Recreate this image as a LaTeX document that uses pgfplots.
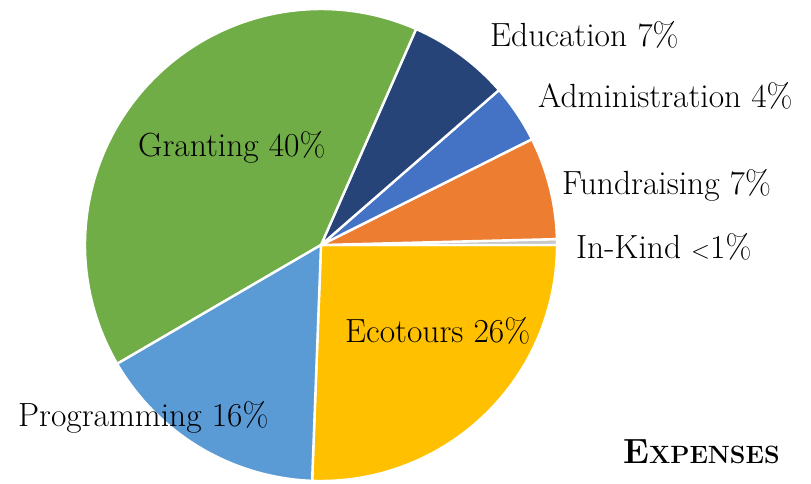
\documentclass[border=0pt]{standalone}
\usepackage{pgfplots}
\pgfplotsset{compat=1.18}
\usepgfplotslibrary{polar}
\definecolor{cEco}{HTML}{FFC000}
\definecolor{cProg}{HTML}{5B9BD5}
\definecolor{cGrant}{HTML}{70AD47}
\definecolor{cEdu}{HTML}{264478}
\definecolor{cAdm}{HTML}{4472C4}
\definecolor{cFund}{HTML}{ED7D31}
\definecolor{cKind}{HTML}{C8C8C8}
% shares (percent): Ecotours 25.6, In-Kind 0.4, Fundraising 7, Administration 4,
% Education 7, Granting 40, Programming 16  (1 percent = 3.6 degrees)
\begin{document}
\begin{tikzpicture}[x=1pt,y=1pt]
\useasboundingbox (0,0) rectangle (811,484);
\begin{polaraxis}[
  hide axis, scale only axis, width=472pt, height=472pt,
  ymin=0, ymax=1, clip=false,
  at={(321pt,239pt)}, anchor=center,
  every axis plot/.append style={draw=white, line width=2.4pt, line join=round, samples=80},
]
% Ecotours 25.6%
\addplot[fill=cEco, domain=-92.16:0] {1} -- (axis cs:0,0) -- cycle;
% In-Kind 0.4%
\addplot[fill=cKind, domain=0:1.44, samples=4] {1} -- (axis cs:0,0) -- cycle;
% Fundraising 7%
\addplot[fill=cFund, domain=1.44:26.64] {1} -- (axis cs:0,0) -- cycle;
% Administration 4%
\addplot[fill=cAdm, domain=26.64:41.04] {1} -- (axis cs:0,0) -- cycle;
% Education 7%
\addplot[fill=cEdu, domain=41.04:66.24] {1} -- (axis cs:0,0) -- cycle;
% Granting 40%
\addplot[fill=cGrant, domain=66.24:210.24] {1} -- (axis cs:0,0) -- cycle;
% Programming 16%
\addplot[fill=cProg, domain=210.24:267.84] {1} -- (axis cs:0,0) -- cycle;
\end{polaraxis}
\begin{scope}[every node/.style={anchor=base west, inner sep=0pt, font=\fontsize{33.5}{38}\selectfont}]
\node at (490,437) {Education 7\%};
\node at (538,376) {Administration 4\%};
\node at (562,289) {Fundraising 7\%};
\node at (576,225) {In-Kind $<$1\%};
\node at (138,327) {Granting 40\%};
\node at (345,141) {Ecotours 26\%};
\node at (18,57) {Programming 16\%};
\node at (623,20) {\bfseries\fontsize{35}{40}\selectfont E\fontsize{25}{30}\selectfont XPENSES};
\end{scope}
\end{tikzpicture}
\end{document}
